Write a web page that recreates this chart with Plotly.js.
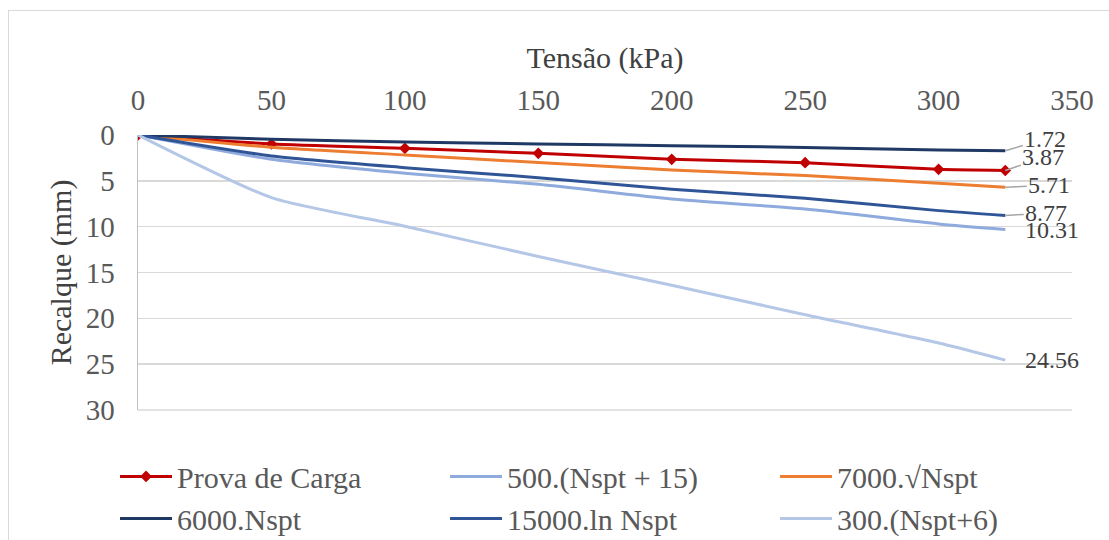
<!DOCTYPE html>
<html>
<head>
<meta charset="utf-8">
<script src="https://cdn.plot.ly/plotly-3.0.1.min.js"></script>
<style>
  html, body { margin: 0; padding: 0; background: #fff; overflow: hidden; }
  #wrap { position: relative; width: 1109px; height: 540px; overflow: hidden; }
  #chart { width: 1109px; height: 540px; }
  #frame { position: absolute; left: 8px; top: 10px; width: 1110px; height: 600px;
           border: 1px solid #d9d9d9; pointer-events: none; box-sizing: border-box; }
</style>
</head>
<body>
<div id="wrap"><div id="chart"></div><div id="frame"></div></div>
<script>
// Tensão (kPa)
const tensao = [0, 50, 100, 150, 200, 250, 300, 325];

// Recalque (mm) for each series
const provaDeCarga = [0, 0.98, 1.45, 2.0, 2.65, 3.02, 3.74, 3.87];
const s500 = [0, 2.65, 4.18, 5.38, 6.98, 8.07, 9.7, 10.31];
const s7000 = [0, 1.34, 2.18, 3.0, 3.82, 4.43, 5.27, 5.71];
const s6000 = [0, 0.47, 0.76, 0.98, 1.16, 1.35, 1.64, 1.72];
const s15000 = [0, 2.29, 3.56, 4.65, 5.92, 6.9, 8.25, 8.77];
const s300 = [0, 6.83, 9.96, 13.25, 16.4, 19.6, 22.7, 24.56];

const seriesNames = ["Prova de Carga", "500.(Nspt + 15)", "7000.\u221ANspt", "6000.Nspt", "15000.ln Nspt", "300.(Nspt+6)"];
const seriesValues = [provaDeCarga, s500, s7000, s6000, s15000, s300];
const seriesColors = ["#C00000", "#8FAADC", "#ED7D31", "#203864", "#2F5597", "#B4C7E7"];

const font = '"Liberation Serif", serif';
const grey = "#595959";

const traces = seriesNames.map((name, i) => {
  const t = {
    x: tensao, y: seriesValues[i], name: name, type: "scatter",
    mode: i === 0 ? "lines+markers" : "lines",
    line: { color: seriesColors[i], width: 3, shape: "spline", smoothing: 0.6 },
    hoverinfo: "skip"
  };
  if (i === 0) t.marker = { symbol: "diamond", size: 9, color: seriesColors[i] };
  return t;
});

// end-point data labels (offsets are styling only)
const labelOffsets = [[38, -13, true], [47, 0, false], [44, -2, true], [40, -12, true], [41, -2, true], [47, 0, false]];
const annotations = seriesValues.map((vals, i) => {
  const last = vals[vals.length - 1];
  const off = labelOffsets[i];
  return {
    x: tensao[tensao.length - 1], y: last, xref: "x", yref: "y",
    text: last.toFixed(2), showarrow: true, ax: off[0], ay: off[1],
    arrowhead: 0, arrowwidth: 1.5, arrowcolor: off[2] ? "#a6a6a6" : "rgba(0,0,0,0)",
    standoff: 0, startstandoff: 0,
    font: { family: font, size: 24, color: "#404040" }
  };
});

const layout = {
  width: 1109, height: 540,
  margin: { l: 138, r: 37, t: 135, b: 130, autoexpand: false },
  paper_bgcolor: "#ffffff", plot_bgcolor: "#ffffff",
  font: { family: font, size: 29, color: grey },
  showlegend: true,
  xaxis: {
    side: "top", range: [0, 350], dtick: 50, tick0: 0, automargin: true,
    showgrid: false, zeroline: false, showline: false, ticks: "",
    ticklabelstandoff: 18,
    tickfont: { family: font, size: 29, color: grey },
    title: { text: "Tensão (kPa)", font: { family: font, size: 30, color: "#404040" }, standoff: 6 },
    fixedrange: true
  },
  yaxis: {
    range: [30, 0], dtick: 5, tick0: 0, automargin: true,
    showgrid: true, gridcolor: "#d9d9d9", gridwidth: 1.5,
    zeroline: false, showline: true, linecolor: "#bfbfbf", linewidth: 1.5, ticks: "",
    ticklabelstandoff: 16,
    tickfont: { family: font, size: 29, color: grey },
    title: { text: "Recalque (mm)", font: { family: font, size: 30, color: "#404040" }, standoff: 5 },
    fixedrange: true
  },
  legend: {
    orientation: "h", xref: "paper", yref: "paper",
    x: -0.0246, xanchor: "left", y: -0.147, yanchor: "top",
    entrywidth: 263, entrywidthmode: "pixels", itemwidth: 52,
    bgcolor: "rgba(0,0,0,0)", tracegroupgap: 0,
    font: { family: font, size: 30, color: grey }
  },
  shapes: [
    { type: "line", xref: "paper", yref: "paper", x0: 0, x1: 1, y0: 0, y1: 0,
      line: { color: "#d9d9d9", width: 1.5 }, layer: "below" }
  ],
  annotations: annotations
};

Plotly.newPlot("chart", traces, layout, { displayModeBar: false, staticPlot: true });
</script>
</body>
</html>
